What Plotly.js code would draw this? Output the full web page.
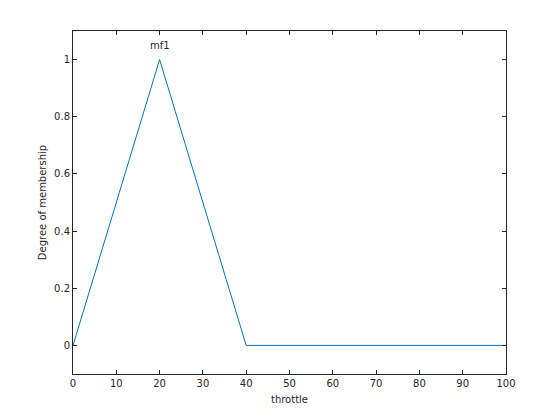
<!DOCTYPE html>
<html>
<head>
<meta charset="utf-8">
<script src="https://cdn.plot.ly/plotly-3.0.1.min.js"></script>
<style>html,body{margin:0;padding:0;background:#fff;}#chart{width:560px;height:420px;}</style>
</head>
<body>
<div id="chart"></div>
<script>
const xValues = [0, 20, 40, 100];
const mf1Values = [0, 1, 0, 0];
const mfNames = ["mf1"];
const mfPeakX = [20];
const xTicks = [0, 10, 20, 30, 40, 50, 60, 70, 80, 90, 100];
const yTicks = [0, 0.2, 0.4, 0.6, 0.8, 1];

const axisCommon = {
  showgrid: false,
  zeroline: false,
  showline: true,
  linecolor: '#262626',
  linewidth: 1,
  mirror: 'allticks',
  ticks: 'inside',
  ticklen: 4,
  tickcolor: '#262626',
  tickfont: {family: 'DejaVu Sans', size: 10, color: '#262626'}
};

const data = [{
  x: xValues,
  y: mf1Values,
  type: 'scatter',
  mode: 'lines',
  line: {color: '#0072BD', width: 1},
  hoverinfo: 'skip'
}];

const layout = {
  width: 560,
  height: 420,
  margin: {l: 73, r: 54, t: 31, b: 46},
  paper_bgcolor: '#ffffff',
  plot_bgcolor: '#ffffff',
  showlegend: false,
  xaxis: Object.assign({}, axisCommon, {
    range: [0, 100],
    tickvals: xTicks,
    ticktext: xTicks.map(String),
    title: {text: 'throttle', font: {family: 'DejaVu Sans', size: 10, color: '#262626'}, standoff: 7}
  }),
  yaxis: Object.assign({}, axisCommon, {
    range: [-0.1, 1.1],
    tickvals: yTicks,
    ticktext: yTicks.map(String),
    title: {text: 'Degree of membership', font: {family: 'DejaVu Sans', size: 10, color: '#262626'}, standoff: 5}
  }),
  annotations: mfNames.map((name, i) => ({
    x: mfPeakX[i],
    y: 1.05,
    xref: 'x',
    yref: 'y',
    text: name,
    showarrow: false,
    xanchor: 'center',
    yanchor: 'middle',
    font: {family: 'DejaVu Sans', size: 10, color: '#262626'}
  }))
};

Plotly.newPlot('chart', data, layout, {displayModeBar: false, staticPlot: true});
</script>
</body>
</html>
